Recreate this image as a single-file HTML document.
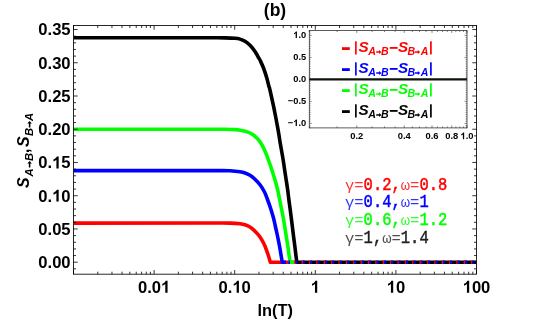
<!DOCTYPE html>
<html><head><meta charset="utf-8"><title>plot</title>
<style>
html,body{margin:0;padding:0;background:#fff;}
body{width:550px;height:320px;overflow:hidden;position:relative;font-family:"Liberation Sans",sans-serif;}
</style></head><body>
<svg width="550" height="320" viewBox="0 0 550 320" style="position:absolute;left:0;top:0;will-change:transform">
<rect width="550" height="320" fill="#fff"/>
<defs><clipPath id="cp"><rect x="73.5" y="25.5" width="403.0" height="248.7"/></clipPath></defs>
<g clip-path="url(#cp)" fill="none" stroke-width="3.6" stroke-linejoin="round">
<path d="M73.50 223.10 L220.00 223.00 C223.00 223.02 226.67 222.97 230.00 223.10 C233.33 223.23 237.50 223.52 240.00 223.80 C242.50 224.08 243.33 224.27 245.00 224.80 C246.67 225.33 248.33 225.93 250.00 227.00 C251.67 228.07 253.33 229.53 255.00 231.20 C256.67 232.87 258.42 234.70 260.00 237.00 C261.58 239.30 263.08 241.83 264.50 245.00 C265.92 248.17 267.53 253.13 268.50 256.00 C269.47 258.87 270.00 261.17 270.30 262.20 L294.2 262.2" stroke="#ff0000"/>
<path d="M73.50 170.60 L220.00 170.60 C223.00 170.63 226.67 170.60 230.00 170.80 C233.33 171.00 237.50 171.43 240.00 171.80 C242.50 172.17 243.33 172.42 245.00 173.00 C246.67 173.58 248.33 174.27 250.00 175.30 C251.67 176.33 253.33 177.62 255.00 179.20 C256.67 180.78 258.42 182.67 260.00 184.80 C261.58 186.93 263.28 189.63 264.50 192.00 C265.72 194.37 266.30 196.33 267.30 199.00 C268.30 201.67 269.47 204.83 270.50 208.00 C271.53 211.17 272.67 214.83 273.50 218.00 C274.33 221.17 274.83 224.00 275.50 227.00 C276.17 230.00 276.83 232.83 277.50 236.00 C278.17 239.17 278.88 242.67 279.50 246.00 C280.12 249.33 280.75 253.30 281.20 256.00 C281.65 258.70 282.03 261.17 282.20 262.20 L286.0 262.2" stroke="#0000ff"/>
<path d="M73.50 129.30 L225.00 129.30 C228.00 129.35 232.50 129.45 235.00 129.60 C237.50 129.75 238.33 129.93 240.00 130.20 C241.67 130.47 243.33 130.73 245.00 131.20 C246.67 131.67 248.33 132.15 250.00 133.00 C251.67 133.85 253.33 134.85 255.00 136.30 C256.67 137.75 258.42 139.42 260.00 141.70 C261.58 143.98 262.97 146.62 264.50 150.00 C266.03 153.38 267.92 158.50 269.20 162.00 C270.48 165.50 271.23 168.00 272.20 171.00 C273.17 174.00 274.08 176.83 275.00 180.00 C275.92 183.17 276.95 186.83 277.70 190.00 C278.45 193.17 278.90 196.00 279.50 199.00 C280.10 202.00 280.67 204.83 281.30 208.00 C281.93 211.17 282.72 214.83 283.30 218.00 C283.88 221.17 284.32 224.00 284.80 227.00 C285.28 230.00 285.70 232.83 286.20 236.00 C286.70 239.17 287.30 242.67 287.80 246.00 C288.30 249.33 288.82 253.30 289.20 256.00 C289.58 258.70 289.95 261.17 290.10 262.20 L294.1 262.2" stroke="#00ff00"/>
<path d="M288.3 262.2 H290.0" stroke="#0000ff"/>
<path d="M73.50 37.80 L215.00 37.80 C218.00 37.82 221.67 37.82 225.00 37.90 C228.33 37.98 232.50 38.10 235.00 38.30 C237.50 38.50 238.33 38.60 240.00 39.10 C241.67 39.60 243.33 40.27 245.00 41.30 C246.67 42.33 248.33 43.60 250.00 45.30 C251.67 47.00 253.53 49.38 255.00 51.50 C256.47 53.62 257.95 56.53 258.80 58.00 C259.65 59.47 259.32 58.63 260.10 60.30 C260.88 61.97 262.38 65.05 263.50 68.00 C264.62 70.95 265.92 75.00 266.80 78.00 C267.68 81.00 268.35 84.33 268.80 86.00 C269.25 87.67 269.08 86.33 269.50 88.00 C269.92 89.67 270.63 93.00 271.30 96.00 C271.97 99.00 272.83 102.83 273.50 106.00 C274.17 109.17 274.72 112.00 275.30 115.00 C275.88 118.00 276.42 120.83 277.00 124.00 C277.58 127.17 278.27 130.83 278.80 134.00 C279.33 137.17 279.70 140.00 280.20 143.00 C280.70 146.00 281.25 148.83 281.80 152.00 C282.35 155.17 283.00 158.83 283.50 162.00 C284.00 165.17 284.35 168.00 284.80 171.00 C285.25 174.00 285.72 176.83 286.20 180.00 C286.68 183.17 287.27 186.83 287.70 190.00 C288.13 193.17 288.42 196.00 288.80 199.00 C289.18 202.00 289.58 204.83 290.00 208.00 C290.42 211.17 290.90 214.83 291.30 218.00 C291.70 221.17 292.03 224.00 292.40 227.00 C292.77 230.00 293.10 232.83 293.50 236.00 C293.90 239.17 294.38 242.67 294.80 246.00 C295.22 249.33 295.67 253.30 296.00 256.00 C296.33 258.70 296.67 261.17 296.80 262.20 L476.5 262.2" stroke="#000000"/>
<path d="M294.1 262.2 H476.5" stroke="#ff0000" stroke-dasharray="1.45 5.923"/>
<path d="M295.55 262.2 H476.5" stroke="#0000ff" stroke-dasharray="1.85 5.523"/>
</g>
<g stroke="#000" fill="none">
<rect x="73.5" y="25.5" width="403.0" height="248.7" stroke-width="0.9" stroke="#111"/>
<path d="M73.50 274.20 v-4.20 M73.50 25.50 v4.20 M97.76 274.20 v-2.50 M97.76 25.50 v2.50 M111.96 274.20 v-2.50 M111.96 25.50 v2.50 M122.03 274.20 v-2.50 M122.03 25.50 v2.50 M129.84 274.20 v-2.50 M129.84 25.50 v2.50 M136.22 274.20 v-2.50 M136.22 25.50 v2.50 M141.61 274.20 v-2.50 M141.61 25.50 v2.50 M146.29 274.20 v-2.50 M146.29 25.50 v2.50 M150.41 274.20 v-2.50 M150.41 25.50 v2.50 M154.10 274.20 v-4.20 M154.10 25.50 v4.20 M178.36 274.20 v-2.50 M178.36 25.50 v2.50 M192.56 274.20 v-2.50 M192.56 25.50 v2.50 M202.63 274.20 v-2.50 M202.63 25.50 v2.50 M210.44 274.20 v-2.50 M210.44 25.50 v2.50 M216.82 274.20 v-2.50 M216.82 25.50 v2.50 M222.21 274.20 v-2.50 M222.21 25.50 v2.50 M226.89 274.20 v-2.50 M226.89 25.50 v2.50 M231.01 274.20 v-2.50 M231.01 25.50 v2.50 M234.70 274.20 v-4.20 M234.70 25.50 v4.20 M258.96 274.20 v-2.50 M258.96 25.50 v2.50 M273.16 274.20 v-2.50 M273.16 25.50 v2.50 M283.23 274.20 v-2.50 M283.23 25.50 v2.50 M291.04 274.20 v-2.50 M291.04 25.50 v2.50 M297.42 274.20 v-2.50 M297.42 25.50 v2.50 M302.81 274.20 v-2.50 M302.81 25.50 v2.50 M307.49 274.20 v-2.50 M307.49 25.50 v2.50 M311.61 274.20 v-2.50 M311.61 25.50 v2.50 M315.30 274.20 v-4.20 M315.30 25.50 v4.20 M339.56 274.20 v-2.50 M339.56 25.50 v2.50 M353.76 274.20 v-2.50 M353.76 25.50 v2.50 M363.83 274.20 v-2.50 M363.83 25.50 v2.50 M371.64 274.20 v-2.50 M371.64 25.50 v2.50 M378.02 274.20 v-2.50 M378.02 25.50 v2.50 M383.41 274.20 v-2.50 M383.41 25.50 v2.50 M388.09 274.20 v-2.50 M388.09 25.50 v2.50 M392.21 274.20 v-2.50 M392.21 25.50 v2.50 M395.90 274.20 v-4.20 M395.90 25.50 v4.20 M420.16 274.20 v-2.50 M420.16 25.50 v2.50 M434.36 274.20 v-2.50 M434.36 25.50 v2.50 M444.43 274.20 v-2.50 M444.43 25.50 v2.50 M452.24 274.20 v-2.50 M452.24 25.50 v2.50 M458.62 274.20 v-2.50 M458.62 25.50 v2.50 M464.01 274.20 v-2.50 M464.01 25.50 v2.50 M468.69 274.20 v-2.50 M468.69 25.50 v2.50 M472.81 274.20 v-2.50 M472.81 25.50 v2.50 M476.50 274.20 v-4.20 M476.50 25.50 v4.20 M73.50 268.85 h2.50 M476.50 268.85 h-2.50 M73.50 262.20 h4.20 M476.50 262.20 h-4.20 M73.50 255.55 h2.50 M476.50 255.55 h-2.50 M73.50 248.90 h2.50 M476.50 248.90 h-2.50 M73.50 242.26 h2.50 M476.50 242.26 h-2.50 M73.50 235.61 h2.50 M476.50 235.61 h-2.50 M73.50 228.96 h4.20 M476.50 228.96 h-4.20 M73.50 222.31 h2.50 M476.50 222.31 h-2.50 M73.50 215.66 h2.50 M476.50 215.66 h-2.50 M73.50 209.02 h2.50 M476.50 209.02 h-2.50 M73.50 202.37 h2.50 M476.50 202.37 h-2.50 M73.50 195.72 h4.20 M476.50 195.72 h-4.20 M73.50 189.07 h2.50 M476.50 189.07 h-2.50 M73.50 182.42 h2.50 M476.50 182.42 h-2.50 M73.50 175.78 h2.50 M476.50 175.78 h-2.50 M73.50 169.13 h2.50 M476.50 169.13 h-2.50 M73.50 162.48 h4.20 M476.50 162.48 h-4.20 M73.50 155.83 h2.50 M476.50 155.83 h-2.50 M73.50 149.18 h2.50 M476.50 149.18 h-2.50 M73.50 142.54 h2.50 M476.50 142.54 h-2.50 M73.50 135.89 h2.50 M476.50 135.89 h-2.50 M73.50 129.24 h4.20 M476.50 129.24 h-4.20 M73.50 122.59 h2.50 M476.50 122.59 h-2.50 M73.50 115.94 h2.50 M476.50 115.94 h-2.50 M73.50 109.30 h2.50 M476.50 109.30 h-2.50 M73.50 102.65 h2.50 M476.50 102.65 h-2.50 M73.50 96.00 h4.20 M476.50 96.00 h-4.20 M73.50 89.35 h2.50 M476.50 89.35 h-2.50 M73.50 82.70 h2.50 M476.50 82.70 h-2.50 M73.50 76.06 h2.50 M476.50 76.06 h-2.50 M73.50 69.41 h2.50 M476.50 69.41 h-2.50 M73.50 62.76 h4.20 M476.50 62.76 h-4.20 M73.50 56.11 h2.50 M476.50 56.11 h-2.50 M73.50 49.46 h2.50 M476.50 49.46 h-2.50 M73.50 42.82 h2.50 M476.50 42.82 h-2.50 M73.50 36.17 h2.50 M476.50 36.17 h-2.50 M73.50 29.52 h4.20 M476.50 29.52 h-4.20" stroke-width="0.8"/>
</g>
<g stroke="#333" fill="none">
<rect x="309.3" y="30.5" width="157.7" height="97.4" stroke-width="0.8" fill="#fff"/>
<path d="M309.30 127.90 v-1.50 M309.30 30.50 v1.50 M337.07 127.90 v-1.50 M337.07 30.50 v1.50 M356.77 127.90 v-2.40 M356.77 30.50 v2.40 M372.06 127.90 v-1.50 M372.06 30.50 v1.50 M384.54 127.90 v-1.50 M384.54 30.50 v1.50 M395.10 127.90 v-1.50 M395.10 30.50 v1.50 M404.24 127.90 v-2.40 M404.24 30.50 v2.40 M412.31 127.90 v-1.50 M412.31 30.50 v1.50 M419.53 127.90 v-1.50 M419.53 30.50 v1.50 M426.06 127.90 v-1.50 M426.06 30.50 v1.50 M432.01 127.90 v-2.40 M432.01 30.50 v2.40 M437.50 127.90 v-1.50 M437.50 30.50 v1.50 M442.57 127.90 v-1.50 M442.57 30.50 v1.50 M447.30 127.90 v-1.50 M447.30 30.50 v1.50 M451.72 127.90 v-2.40 M451.72 30.50 v2.40 M455.87 127.90 v-1.50 M455.87 30.50 v1.50 M459.78 127.90 v-1.50 M459.78 30.50 v1.50 M463.49 127.90 v-1.50 M463.49 30.50 v1.50 M467.00 127.90 v-2.40 M467.00 30.50 v2.40 M309.30 127.80 h1.30 M467.00 127.80 h-1.30 M309.30 125.60 h1.30 M467.00 125.60 h-1.30 M309.30 123.40 h2.40 M467.00 123.40 h-2.40 M309.30 121.20 h1.30 M467.00 121.20 h-1.30 M309.30 119.00 h1.30 M467.00 119.00 h-1.30 M309.30 116.80 h1.30 M467.00 116.80 h-1.30 M309.30 114.60 h1.30 M467.00 114.60 h-1.30 M309.30 112.40 h1.30 M467.00 112.40 h-1.30 M309.30 110.20 h1.30 M467.00 110.20 h-1.30 M309.30 108.00 h1.30 M467.00 108.00 h-1.30 M309.30 105.80 h1.30 M467.00 105.80 h-1.30 M309.30 103.60 h1.30 M467.00 103.60 h-1.30 M309.30 101.40 h2.40 M467.00 101.40 h-2.40 M309.30 99.20 h1.30 M467.00 99.20 h-1.30 M309.30 97.00 h1.30 M467.00 97.00 h-1.30 M309.30 94.80 h1.30 M467.00 94.80 h-1.30 M309.30 92.60 h1.30 M467.00 92.60 h-1.30 M309.30 90.40 h1.30 M467.00 90.40 h-1.30 M309.30 88.20 h1.30 M467.00 88.20 h-1.30 M309.30 86.00 h1.30 M467.00 86.00 h-1.30 M309.30 83.80 h1.30 M467.00 83.80 h-1.30 M309.30 81.60 h1.30 M467.00 81.60 h-1.30 M309.30 79.40 h2.40 M467.00 79.40 h-2.40 M309.30 77.20 h1.30 M467.00 77.20 h-1.30 M309.30 75.00 h1.30 M467.00 75.00 h-1.30 M309.30 72.80 h1.30 M467.00 72.80 h-1.30 M309.30 70.60 h1.30 M467.00 70.60 h-1.30 M309.30 68.40 h1.30 M467.00 68.40 h-1.30 M309.30 66.20 h1.30 M467.00 66.20 h-1.30 M309.30 64.00 h1.30 M467.00 64.00 h-1.30 M309.30 61.80 h1.30 M467.00 61.80 h-1.30 M309.30 59.60 h1.30 M467.00 59.60 h-1.30 M309.30 57.40 h2.40 M467.00 57.40 h-2.40 M309.30 55.20 h1.30 M467.00 55.20 h-1.30 M309.30 53.00 h1.30 M467.00 53.00 h-1.30 M309.30 50.80 h1.30 M467.00 50.80 h-1.30 M309.30 48.60 h1.30 M467.00 48.60 h-1.30 M309.30 46.40 h1.30 M467.00 46.40 h-1.30 M309.30 44.20 h1.30 M467.00 44.20 h-1.30 M309.30 42.00 h1.30 M467.00 42.00 h-1.30 M309.30 39.80 h1.30 M467.00 39.80 h-1.30 M309.30 37.60 h1.30 M467.00 37.60 h-1.30 M309.30 35.40 h2.40 M467.00 35.40 h-2.40 M309.30 33.20 h1.30 M467.00 33.20 h-1.30 M309.30 31.00 h1.30 M467.00 31.00 h-1.30" stroke-width="0.6"/>
<path d="M309.3 79.4 H467.0" stroke="#0a140a" stroke-width="2.2"/>
</g>
<g font-family="Liberation Sans, sans-serif" font-weight="bold" fill="#000">
<text x="275.0" y="15.7" font-size="17.5" text-anchor="middle">(b)</text>
<text x="275.3" y="316.2" font-size="16.4" text-anchor="middle">ln(T)</text>
<text x="137.95" y="292.70" font-size="16.6">0.0</text><path transform="translate(161.02 292.70) scale(0.00811 -0.00811)" d="M806 0H525V1059Q371 915 162 846V1101Q272 1137 401 1237.5Q530 1338 578 1472H806Z"/>
<text x="218.55" y="292.70" font-size="16.6">0.</text><path transform="translate(232.39 292.70) scale(0.00811 -0.00811)" d="M806 0H525V1059Q371 915 162 846V1101Q272 1137 401 1237.5Q530 1338 578 1472H806Z"/><text x="241.62" y="292.70" font-size="16.6">0</text>
<path transform="translate(310.69 292.70) scale(0.00811 -0.00811)" d="M806 0H525V1059Q371 915 162 846V1101Q272 1137 401 1237.5Q530 1338 578 1472H806Z"/>
<path transform="translate(386.67 292.70) scale(0.00811 -0.00811)" d="M806 0H525V1059Q371 915 162 846V1101Q272 1137 401 1237.5Q530 1338 578 1472H806Z"/><text x="395.90" y="292.70" font-size="16.6">0</text>
<path transform="translate(462.66 292.70) scale(0.00811 -0.00811)" d="M806 0H525V1059Q371 915 162 846V1101Q272 1137 401 1237.5Q530 1338 578 1472H806Z"/><text x="471.89" y="292.70" font-size="16.6">00</text>
<text x="38.30" y="268.10" font-size="16.6">0.00</text>
<text x="38.30" y="234.86" font-size="16.6">0.05</text>
<text x="38.30" y="201.62" font-size="16.6">0.</text><path transform="translate(52.14 201.62) scale(0.00811 -0.00811)" d="M806 0H525V1059Q371 915 162 846V1101Q272 1137 401 1237.5Q530 1338 578 1472H806Z"/><text x="61.37" y="201.62" font-size="16.6">0</text>
<text x="38.30" y="168.38" font-size="16.6">0.</text><path transform="translate(52.14 168.38) scale(0.00811 -0.00811)" d="M806 0H525V1059Q371 915 162 846V1101Q272 1137 401 1237.5Q530 1338 578 1472H806Z"/><text x="61.37" y="168.38" font-size="16.6">5</text>
<text x="38.30" y="135.14" font-size="16.6">0.20</text>
<text x="38.30" y="101.90" font-size="16.6">0.25</text>
<text x="38.30" y="68.66" font-size="16.6">0.30</text>
<text x="38.30" y="35.42" font-size="16.6">0.35</text>
<g transform="translate(29.2 187.5) rotate(-90)" font-size="16" font-style="italic">
<text x="-0.6" y="0">S</text>
<text x="11.0" y="3.3" font-size="11.2">A</text>
<path d="M20.00 -0.35 h4.00 v-1.55 l2.40 2.30 l-2.40 2.30 v-1.55 h-4.00 z"/>
<text x="26.4" y="3.3" font-size="11.2">B</text>
<text x="34.6" y="0" font-style="normal">,</text>
<text x="40.4" y="0">S</text>
<text x="51.6" y="3.3" font-size="11.2">B</text>
<path d="M60.00 -0.35 h4.00 v-1.55 l2.40 2.30 l-2.40 2.30 v-1.55 h-4.00 z"/>
<text x="66.6" y="3.3" font-size="11.2">A</text>
</g>
<path transform="translate(293.27 38.10) scale(0.00454 -0.00454)" d="M806 0H525V1059Q371 915 162 846V1101Q272 1137 401 1237.5Q530 1338 578 1472H806Z"/><text x="298.44" y="38.10" font-size="9.3">.0</text>
<text x="293.27" y="60.10" font-size="9.3">0.5</text>
<text x="293.27" y="82.10" font-size="9.3">0.0</text>
<text x="287.84" y="104.10" font-size="9.3">−0.5</text>
<text x="287.84" y="126.10" font-size="9.3">−</text><path transform="translate(293.27 126.10) scale(0.00454 -0.00454)" d="M806 0H525V1059Q371 915 162 846V1101Q272 1137 401 1237.5Q530 1338 578 1472H806Z"/><text x="298.44" y="126.10" font-size="9.3">.0</text>
<text x="350.24" y="139.30" font-size="9.4">0.2</text>
<text x="397.71" y="139.30" font-size="9.4">0.4</text>
<text x="425.48" y="139.30" font-size="9.4">0.6</text>
<text x="445.18" y="139.30" font-size="9.4">0.8</text>
<path transform="translate(460.47 139.30) scale(0.00459 -0.00459)" d="M806 0H525V1059Q371 915 162 846V1101Q272 1137 401 1237.5Q530 1338 578 1472H806Z"/><text x="465.69" y="139.30" font-size="9.4">.0</text>
<rect x="342" y="47.2" width="7.8" height="2.8" fill="#ff0000"/>
<g fill="#ff0000" font-size="15.2" font-style="italic">
<rect x="355.05" y="41.3" width="1.65" height="13.2"/>
<text x="358.5" y="52.0">S</text>
<text x="368.3" y="54.8" font-size="10.6">A</text>
<path d="M376.20 51.25 h2.90 v-1.35 l2.40 2.10 l-2.40 2.10 v-1.35 h-2.90 z"/>
<text x="381.0" y="54.8" font-size="10.6">B</text>
<rect x="389.8" y="47.0" width="7.8" height="1.8"/>
<text x="398.0" y="52.0">S</text>
<text x="407.6" y="54.8" font-size="10.6">B</text>
<path d="M415.00 51.25 h2.80 v-1.35 l2.40 2.10 l-2.40 2.10 v-1.35 h-2.80 z"/>
<text x="420.8" y="54.8" font-size="10.6">A</text>
<rect x="430.05" y="41.3" width="1.7" height="13.2"/>
</g>
<rect x="342" y="68.2" width="7.8" height="2.8" fill="#0000ff"/>
<g fill="#0000ff" font-size="15.2" font-style="italic">
<rect x="355.05" y="62.3" width="1.65" height="13.2"/>
<text x="358.5" y="73.0">S</text>
<text x="368.3" y="75.8" font-size="10.6">A</text>
<path d="M376.20 72.25 h2.90 v-1.35 l2.40 2.10 l-2.40 2.10 v-1.35 h-2.90 z"/>
<text x="381.0" y="75.8" font-size="10.6">B</text>
<rect x="389.8" y="68.0" width="7.8" height="1.8"/>
<text x="398.0" y="73.0">S</text>
<text x="407.6" y="75.8" font-size="10.6">B</text>
<path d="M415.00 72.25 h2.80 v-1.35 l2.40 2.10 l-2.40 2.10 v-1.35 h-2.80 z"/>
<text x="420.8" y="75.8" font-size="10.6">A</text>
<rect x="430.05" y="62.3" width="1.7" height="13.2"/>
</g>
<rect x="342" y="89.2" width="7.8" height="2.8" fill="#00ff00"/>
<g fill="#00ff00" font-size="15.2" font-style="italic">
<rect x="355.05" y="83.3" width="1.65" height="13.2"/>
<text x="358.5" y="94.0">S</text>
<text x="368.3" y="96.8" font-size="10.6">A</text>
<path d="M376.20 93.25 h2.90 v-1.35 l2.40 2.10 l-2.40 2.10 v-1.35 h-2.90 z"/>
<text x="381.0" y="96.8" font-size="10.6">B</text>
<rect x="389.8" y="89.0" width="7.8" height="1.8"/>
<text x="398.0" y="94.0">S</text>
<text x="407.6" y="96.8" font-size="10.6">B</text>
<path d="M415.00 93.25 h2.80 v-1.35 l2.40 2.10 l-2.40 2.10 v-1.35 h-2.80 z"/>
<text x="420.8" y="96.8" font-size="10.6">A</text>
<rect x="430.05" y="83.3" width="1.7" height="13.2"/>
</g>
<rect x="342" y="110.2" width="7.8" height="2.8" fill="#000000"/>
<g fill="#000000" font-size="15.2" font-style="italic">
<rect x="355.05" y="104.3" width="1.65" height="13.2"/>
<text x="358.5" y="115.0">S</text>
<text x="368.3" y="117.8" font-size="10.6">A</text>
<path d="M376.20 114.25 h2.90 v-1.35 l2.40 2.10 l-2.40 2.10 v-1.35 h-2.90 z"/>
<text x="381.0" y="117.8" font-size="10.6">B</text>
<rect x="389.8" y="110.0" width="7.8" height="1.8"/>
<text x="398.0" y="115.0">S</text>
<text x="407.6" y="117.8" font-size="10.6">B</text>
<path d="M415.00 114.25 h2.80 v-1.35 l2.40 2.10 l-2.40 2.10 v-1.35 h-2.80 z"/>
<text x="420.8" y="117.8" font-size="10.6">A</text>
<rect x="430.05" y="104.3" width="1.7" height="13.2"/>
</g>
</g>
<g font-family="Liberation Mono, monospace" font-size="15.5">
<g fill="#ff0000" stroke="#ff0000" stroke-width="0">
<text x="345.00" y="189.5" fill-opacity="0.8">&#947;=</text>
<text transform="translate(363.60 189.5) scale(1 1.13)" stroke-width="0.42">0.2,</text>
<text x="400.81" y="189.5" fill-opacity="0.8">&#969;=</text>
<text transform="translate(419.41 189.5) scale(1 1.13)" stroke-width="0.42">0.8</text>
</g>
<g fill="#0000ff" stroke="#0000ff" stroke-width="0">
<text x="345.00" y="207.2" fill-opacity="0.8">&#947;=</text>
<text transform="translate(363.60 207.2) scale(1 1.13)" stroke-width="0.42">0.4,</text>
<text x="400.81" y="207.2" fill-opacity="0.8">&#969;=</text>
<text transform="translate(419.41 207.2) scale(1 1.13)" stroke-width="0.42">1</text>
</g>
<g fill="#00ff00" stroke="#00ff00" stroke-width="0">
<text x="345.00" y="224.9" fill-opacity="0.8">&#947;=</text>
<text transform="translate(363.60 224.9) scale(1 1.13)" stroke-width="0.42">0.6,</text>
<text x="400.81" y="224.9" fill-opacity="0.8">&#969;=</text>
<text transform="translate(419.41 224.9) scale(1 1.13)" stroke-width="0.42">1.2</text>
</g>
<g fill="#222222" stroke="#222222" stroke-width="0">
<text x="345.00" y="242.6" fill-opacity="0.8">&#947;=</text>
<text transform="translate(363.60 242.6) scale(1 1.13)" stroke-width="0.42">1,</text>
<text x="382.21" y="242.6" fill-opacity="0.8">&#969;=</text>
<text transform="translate(400.81 242.6) scale(1 1.13)" stroke-width="0.42">1.4</text>
</g>
</g>
</svg>
</body></html>
